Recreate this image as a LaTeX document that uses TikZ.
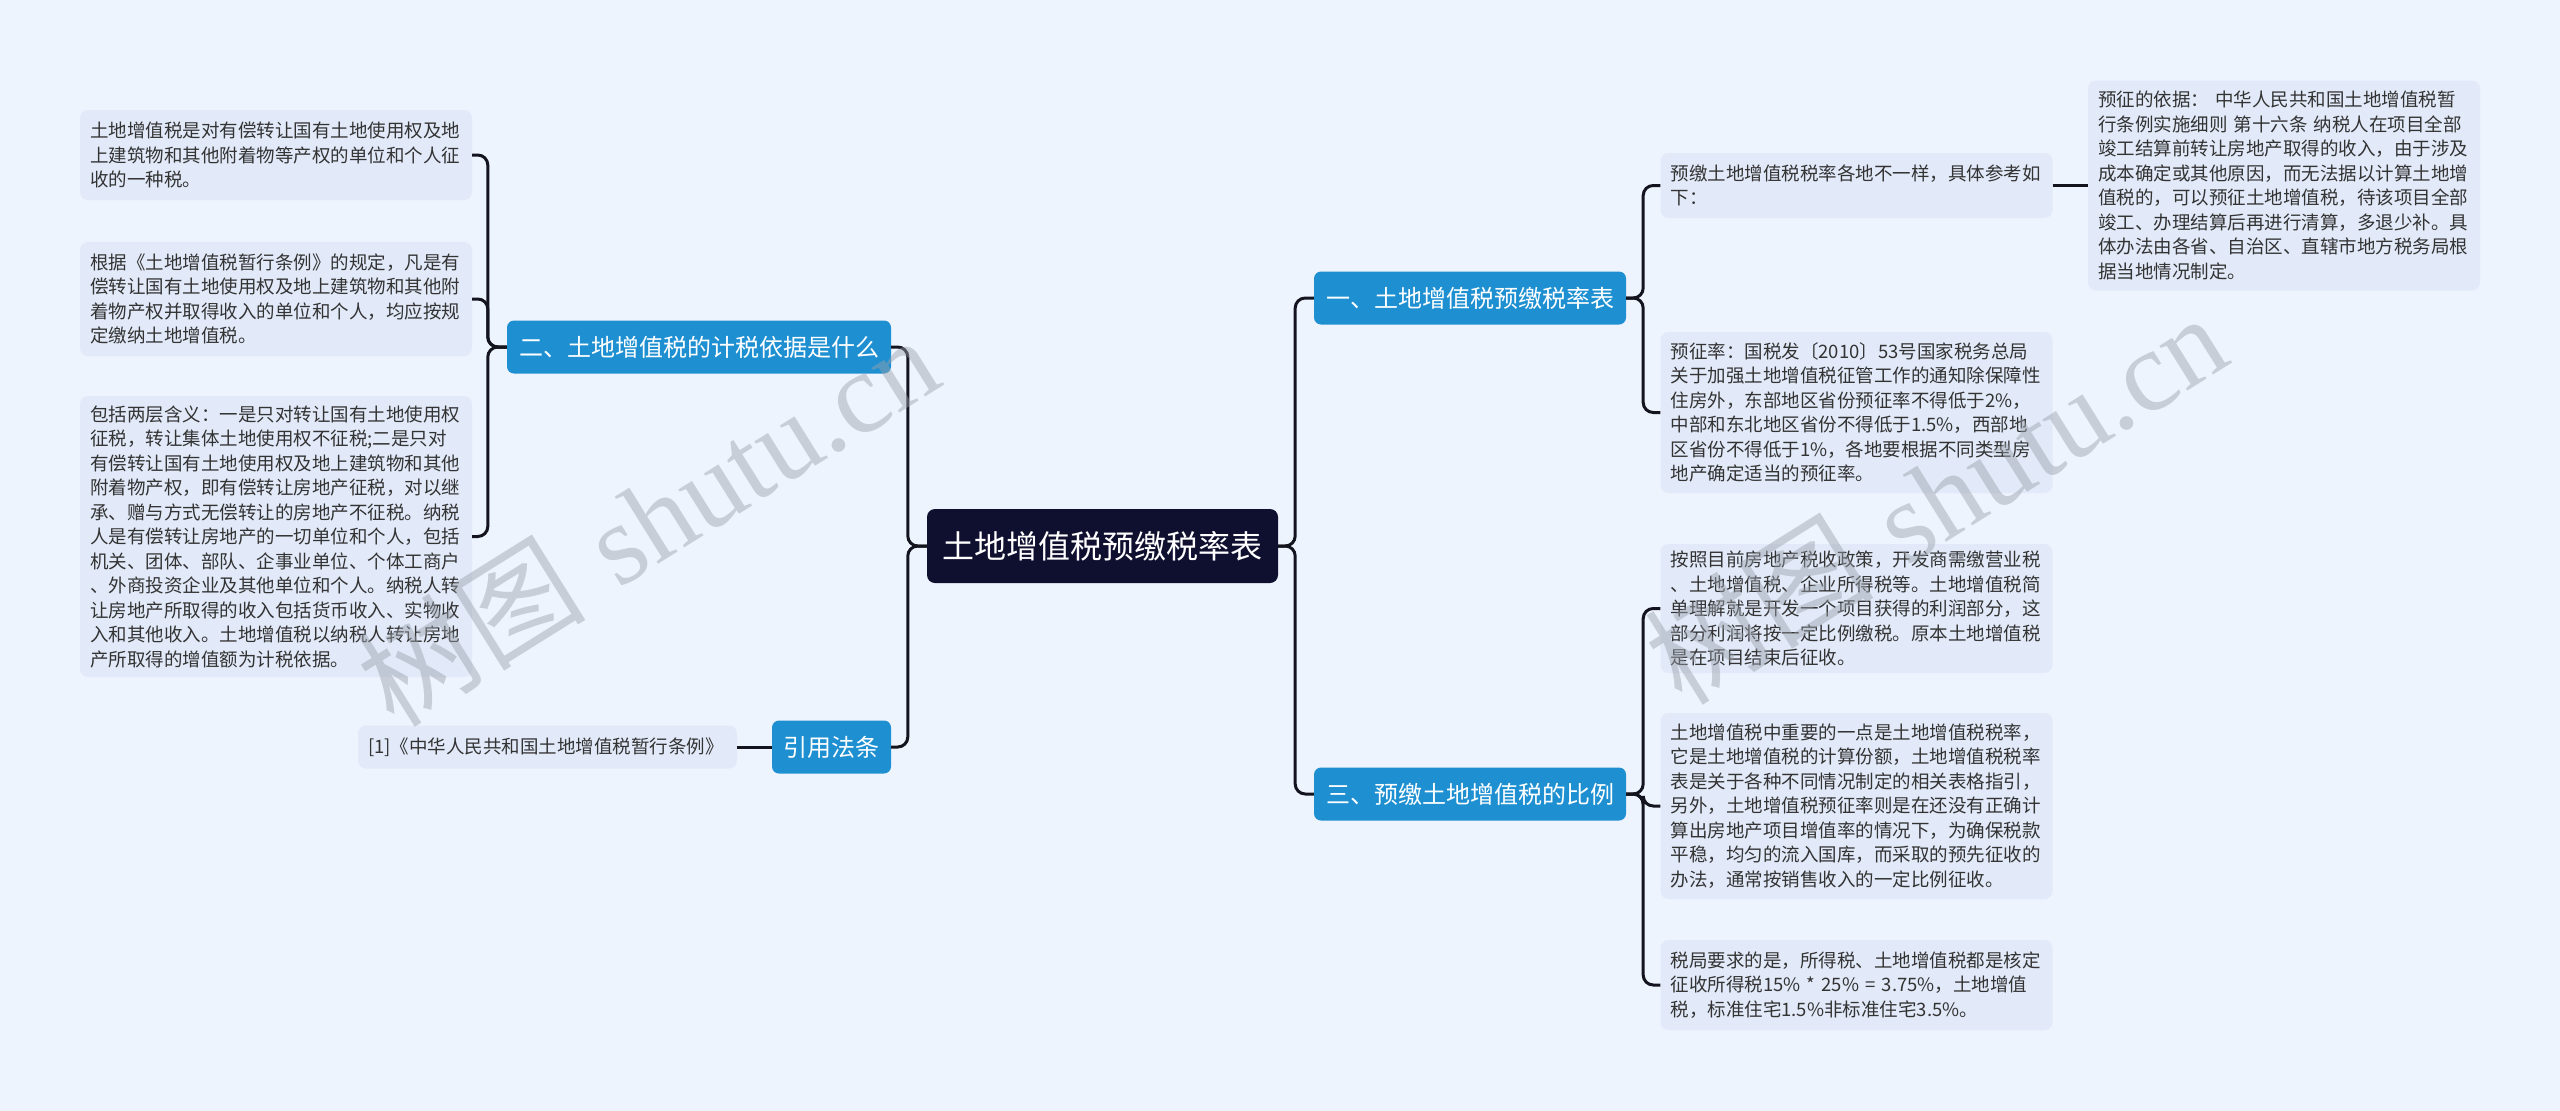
\documentclass[tikz,border=0pt]{standalone}
\usepackage{fontspec}
\newfontfamily\cjk{Noto Sans CJK SC}
\newfontfamily\wmserif{Liberation Serif}
\definecolor{bgc}{HTML}{EEF4FE}
\definecolor{leafc}{HTML}{E2EAF9}
\definecolor{branchc}{HTML}{1E90D2}
\definecolor{rootc}{HTML}{0F0F30}
\definecolor{linec}{HTML}{14141E}
\definecolor{leaftext}{HTML}{333333}
\definecolor{wmc}{HTML}{9AA0AA}
\tikzset{
  leafbox/.style={fill=leafc, rounded corners=8pt, inner xsep=10pt, inner ysep=0pt,
    align=left, text width=372pt, text=leaftext, anchor=center,
    font=\cjk\fontsize{18.5}{24.5}\selectfont},
  branchbox/.style={fill=branchc, rounded corners=7pt, inner sep=0pt, text=white,
    minimum height=53pt, anchor=center, font=\cjk\fontsize{24}{28}\selectfont},
  rootbox/.style={fill=rootc, rounded corners=8pt, inner sep=0pt, text=white,
    minimum width=351pt, minimum height=74pt, anchor=center,
    font=\cjk\fontsize{32}{36}\selectfont},
  conn/.style={draw=linec, line width=3pt, rounded corners=10pt},
  wmark/.style={text=wmc, opacity=0.45, rotate=32, anchor=center, inner sep=0pt}
}
\begin{document}
\begin{tikzpicture}[x=1pt,y=-1pt]
\path[fill=bgc] (0,0) rectangle (2560,1111);
\useasboundingbox (0,0) rectangle (2560,1111);

% root
\node[rootbox] (C) at (1102.5,546) {土地增值税预缴税率表};

% branches
\node[branchbox, minimum width=312pt] (B1) at (1470,298) {一、土地增值税预缴税率表};
\node[branchbox, minimum width=312pt] (B3) at (1470,794) {三、预缴土地增值税的比例};
\node[branchbox, minimum width=384pt] (B2) at (699,347) {二、土地增值税的计税依据是什么};
\node[branchbox, minimum width=119pt] (B4) at (831.5,747) {引用法条};

% left leaves
\node[leafbox, minimum height=90pt] (L1) at (276,155) {土地增值税是对有偿转让国有土地使用权及地\\上建筑物和其他附着物等产权的单位和个人征\\收的一种税。};
\node[leafbox, minimum height=114pt] (L2) at (276,299) {根据《土地增值税暂行条例》的规定，凡是有\\偿转让国有土地使用权及地上建筑物和其他附\\着物产权并取得收入的单位和个人，均应按规\\定缴纳土地增值税。};
\node[leafbox, minimum height=281pt] (L3) at (276,536.5) {包括两层含义：一是只对转让国有土地使用权\\征税，转让集体土地使用权不征税;二是只对\\有偿转让国有土地使用权及地上建筑物和其他\\附着物产权，即有偿转让房地产征税，对以继\\承、赠与方式无偿转让的房地产不征税。纳税\\人是有偿转让房地产的一切单位和个人，包括\\机关、团体、部队、企事业单位、个体工商户\\、外商投资企业及其他单位和个人。纳税人转\\让房地产所取得的收入包括货币收入、实物收\\入和其他收入。土地增值税以纳税人转让房地\\产所取得的增值额为计税依据。};
\node[leafbox, text width=359pt, minimum height=43pt] (L4) at (547.5,747) {[1]《中华人民共和国土地增值税暂行条例》};

% right leaves
\node[leafbox, minimum height=65pt] (R1) at (1856.5,185.5) {预缴土地增值税税率各地不一样，具体参考如\\下：};
\node[leafbox, minimum height=161pt] (R2) at (1856.5,412.5) {预征率：国税发〔2010〕53号国家税务总局\\关于加强土地增值税征管工作的通知除保障性\\住房外，东部地区省份预征率不得低于2\%，\\中部和东北地区省份不得低于1.5\%，西部地\\区省份不得低于1\%，各地要根据不同类型房\\地产确定适当的预征率。};
\node[leafbox, minimum height=210pt] (R1a) at (2284,185.5) {预征的依据：\ 中华人民共和国土地增值税暂\\行条例实施细则 第十六条 纳税人在项目全部\\竣工结算前转让房地产取得的收入，由于涉及\\成本确定或其他原因，而无法据以计算土地增\\值税的，可以预征土地增值税，待该项目全部\\竣工、办理结算后再进行清算，多退少补。具\\体办法由各省、自治区、直辖市地方税务局根\\据当地情况制定。};
\node[leafbox, minimum height=129pt] (R3) at (1856.5,608.5) {按照目前房地产税收政策，开发商需缴营业税\\、土地增值税、企业所得税等。土地增值税简\\单理解就是开发一个项目获得的利润部分，这\\部分利润将按一定比例缴税。原本土地增值税\\是在项目结束后征收。};
\node[leafbox, minimum height=186pt] (R4) at (1856.5,806) {土地增值税中重要的一点是土地增值税税率，\\它是土地增值税的计算份额，土地增值税税率\\表是关于各种不同情况制定的相关表格指引，\\另外，土地增值税预征率则是在还没有正确计\\算出房地产项目增值率的情况下，为确保税款\\平稳，均匀的流入国库，而采取的预先征收的\\办法，通常按销售收入的一定比例征收。};
\node[leafbox, minimum height=90pt] (R5) at (1856.5,985) {税局要求的是，所得税、土地增值税都是核定\\征收所得税15\% * 25\% = 3.75\%，土地增值\\税，标准住宅1.5\%非标准住宅3.5\%。};

% connectors
\draw[conn] (C.east) -- ++(17,0) |- (B1.west);
\draw[conn] (C.east) -- ++(17,0) |- (B3.west);
\draw[conn] (C.west) -- ++(-19,0) |- (B2.east);
\draw[conn] (C.west) -- ++(-19,0) |- (B4.east);
\draw[conn] (B1.east) -- ++(17,0) |- (R1.west);
\draw[conn] (B1.east) -- ++(17,0) |- (R2.west);
\draw[conn] (R1.east) -- (R1a.west);
\draw[conn] (B3.east) -- ++(17,0) |- (R3.west);
\draw[conn] (B3.east) -- ++(17,0) |- (R4.west);
\draw[conn] (B3.east) -- ++(17,0) |- (R5.west);
\draw[conn] (B2.west) -- ++(-19,0) |- (L1.east);
\draw[conn] (B2.west) -- ++(-19,0) |- (L2.east);
\draw[conn] (B2.west) -- ++(-19,0) |- (L3.east);
\draw[conn] (B4.west) -- (L4.east);

% watermarks
\node[wmark] (W1) at (647,520) {\fontsize{115}{120}\selectfont{\cjk 树图} {\wmserif shutu.cn}};
\node[wmark] (W2) at (1935,498) {\fontsize{115}{120}\selectfont{\cjk 树图} {\wmserif shutu.cn}};
\end{tikzpicture}
\end{document}
